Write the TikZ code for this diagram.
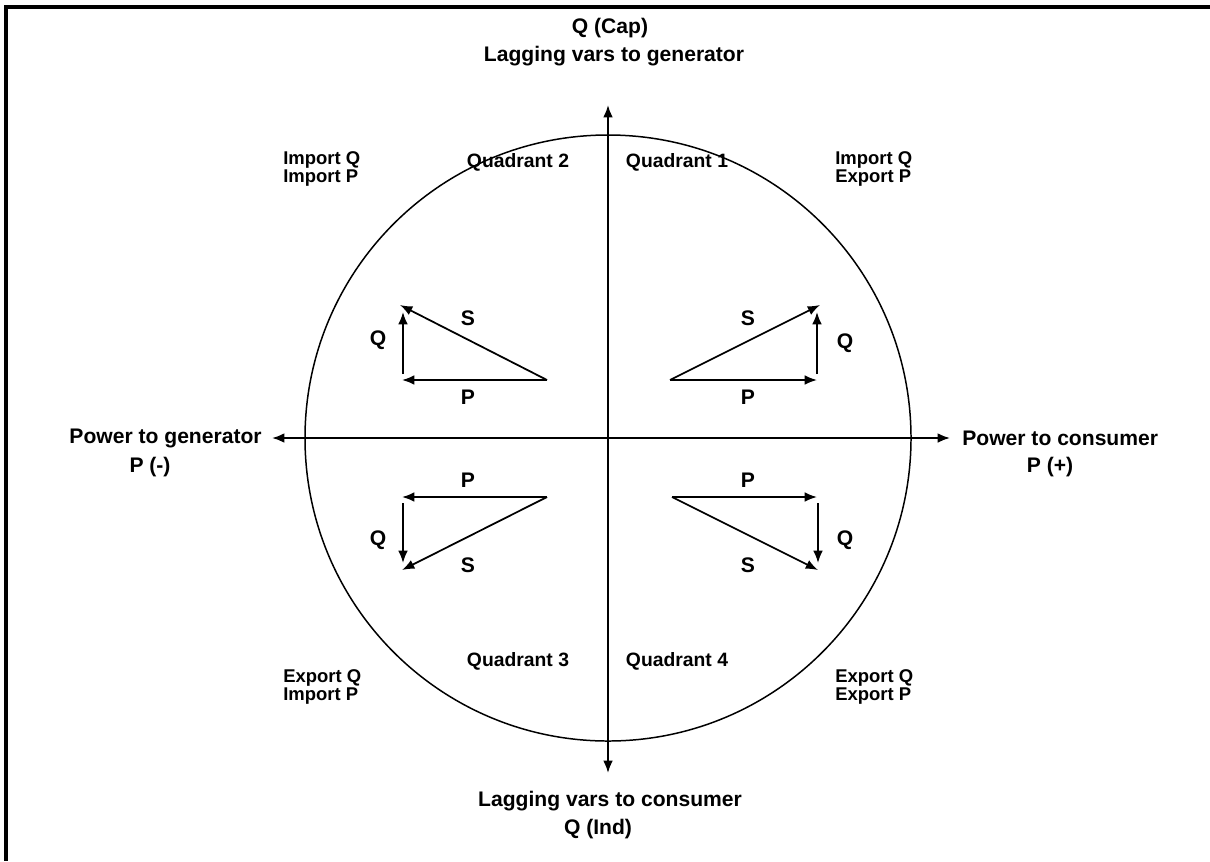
\documentclass[tikz,border=0pt]{standalone}
\usepackage{fontspec}
\setmainfont{Liberation Sans}
\usetikzlibrary{arrows.meta}

\begin{document}
\begin{tikzpicture}[
  x=0.2mm, y=-0.2mm, >={Latex[length=7pt,width=5.5pt]},
  font=\bfseries\fontsize{12}{14}\selectfont,
  lb/.style={inner sep=0pt, align=center},
  qd/.style={inner sep=0pt, font=\bfseries\fontsize{11}{13}\selectfont},
  ql/.style={inner sep=0pt, align=left, anchor=north west, font=\bfseries\fontsize{10.5}{10.4}\selectfont},
  ax/.style={<->, line width=1.1pt},
  vc/.style={->, line width=1pt},
  fr/.style={line width=2.2pt}]
\useasboundingbox (0,0) rectangle (1210,861);

% ---- frame and circle ----
\draw[fr] (1210,7) -- (6,7) -- (6,861);
\coordinate (c) at (608,438);
\draw[line width=0.85pt] (c) circle[radius=60.6mm];

% ---- axes ----
\coordinate (xl) at (272,438); \coordinate (xr) at (950,438);
\coordinate (yt) at (608,105); \coordinate (yb) at (608,773);
\draw[ax] (xl) -- (xr);
\draw[ax] (yt) -- (yb);

% ---- axis labels ----
\node[lb] (qcap) at (610,28) {Q (Cap)};
\node[lb] (lgen) at (614,56) {Lagging vars to generator};
\node[lb] (lcon) at (610,801) {Lagging vars to consumer};
\node[lb] (qind) at (598,829) {Q (Ind)};
\node[lb, anchor=east] (pgen) at (262,438) {Power to generator};
\node[lb] (pneg) at (150,467) {P (-)};
\node[lb, anchor=west] (pcon) at (962,438) {Power to consumer};
\node[lb] (ppos) at (1050,467) {P (+)};

% ---- quadrant labels ----
\node[ql] (iqip) at (283,151) {Import Q\\Import P};
\node[ql] (iqep) at (835,151) {Import Q\\Export P};
\node[ql] (eqip) at (283,669) {Export Q\\Import P};
\node[ql] (eqep) at (835,669) {Export Q\\Export P};
\node[qd] (quad2) at (518,162) {Quadrant 2};
\node[qd] (quad1) at (677,162) {Quadrant 1};
\node[qd] (quad3) at (518,661) {Quadrant 3};
\node[qd] (quad4) at (677,661) {Quadrant 4};

% ---- Quadrant 2 triangle ----
\coordinate (o2) at (547,380); \coordinate (p2) at (402,380); \coordinate (s2) at (400,305);
\coordinate (q2a) at (403,374); \coordinate (q2b) at (403,312);
\draw[vc] (o2) -- (p2); \draw[vc] (q2a) -- (q2b); \draw[vc] (o2) -- (s2);
\node[lb] (s2l) at (468,318) {S}; \node[lb] (q2l) at (378,340) {Q}; \node[lb] (p2l) at (468,397) {P};

% ---- Quadrant 1 triangle ----
\coordinate (o1) at (670,380); \coordinate (p1) at (817,380); \coordinate (s1) at (820,305);
\coordinate (q1a) at (817,374); \coordinate (q1b) at (817,312);
\draw[vc] (o1) -- (p1); \draw[vc] (q1a) -- (q1b); \draw[vc] (o1) -- (s1);
\node[lb] (s1l) at (748,318) {S}; \node[lb] (q1l) at (845,343) {Q}; \node[lb] (p1l) at (748,397) {P};

% ---- Quadrant 3 triangle ----
\coordinate (o3) at (547,497); \coordinate (p3) at (402,497); \coordinate (s3) at (402,570);
\coordinate (q3a) at (403,503); \coordinate (q3b) at (403,563);
\draw[vc] (o3) -- (p3); \draw[vc] (q3a) -- (q3b); \draw[vc] (o3) -- (s3);
\node[lb] (p3l) at (468,480) {P}; \node[lb] (q3l) at (378,540) {Q}; \node[lb] (s3l) at (468,565) {S};

% ---- Quadrant 4 triangle ----
\coordinate (o4) at (672,497); \coordinate (p4) at (817,497); \coordinate (s4) at (818,570);
\coordinate (q4a) at (818,503); \coordinate (q4b) at (818,563);
\draw[vc] (o4) -- (p4); \draw[vc] (q4a) -- (q4b); \draw[vc] (o4) -- (s4);
\node[lb] (p4l) at (748,480) {P}; \node[lb] (q4l) at (845,540) {Q}; \node[lb] (s4l) at (748,565) {S};
\end{tikzpicture}
\end{document}
